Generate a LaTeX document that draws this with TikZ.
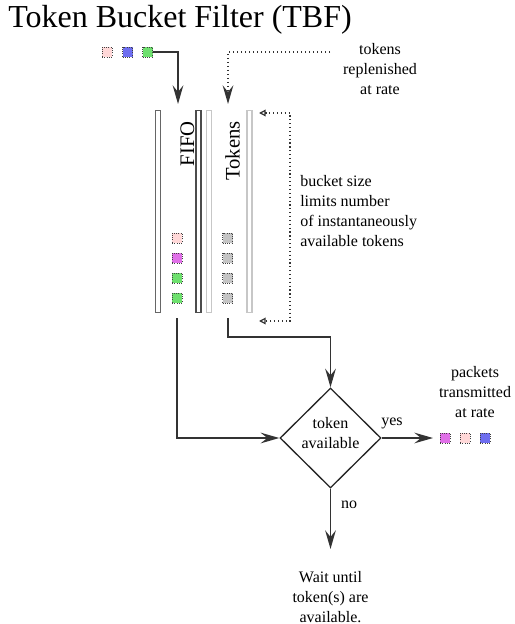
\documentclass[tikz,border=0pt]{standalone}
\usepackage{fontspec}
\setmainfont{Liberation Serif}
\usetikzlibrary{arrows.meta,shapes.geometric}
\definecolor{pk}{HTML}{FFD8D8}
\definecolor{bl}{HTML}{6E6EF0}
\definecolor{gr}{HTML}{6EE06E}
\definecolor{mg}{HTML}{E070E8}
\definecolor{gy}{HTML}{C4C4C4}
\begin{document}
\begin{tikzpicture}[x=0.75pt,y=-0.75pt,
  tip/.tip={Stealth[length=14pt,width=8pt,inset=5pt]},
  pkt/.style={draw=black!75, densely dotted, line width=0.7pt, minimum size=7.5pt, inner sep=0pt},
  flow/.style={draw=black!80, line width=1.1pt, -tip},
  rep/.style={draw=black!80, dotted, line width=1pt, -tip},
  bk/.style={draw=black!80, dotted, line width=0.9pt, {Triangle[open,length=5pt,width=5pt]}-{Triangle[open,length=5pt,width=5pt]}},
  lbl/.style={font=\fontsize{12}{15}\selectfont, align=center, inner sep=0pt},
  wall/.style={draw=black!60, line width=0.9pt, fill=white, minimum width=3.75pt, minimum height=152pt, inner sep=0pt},
  dwall/.style={wall, draw=black!70},
  lwall/.style={wall, draw=black!22},
  vlbl/.style={rotate=90, anchor=east, inner sep=0pt, font=\fontsize{15.5}{18}\selectfont}]
\useasboundingbox (0,0) rectangle (514,624);

% title
\node[anchor=base west, inner sep=0pt, font=\fontsize{24}{28}\selectfont] (title) at (8,28) {Token Bucket Filter (TBF)};

% incoming packets
\node[pkt, fill=pk] (in1) at (107,52) {};
\node[pkt, fill=bl] (in2) at (127.5,52) {};
\node[pkt, fill=gr] (in3) at (147.5,52) {};

% walls
\node[wall]  (fifoL) at (158,211.5) {};
\node[dwall] (fifoR) at (198.5,211.5) {};
\node[lwall] (tokL)  at (209,211.5) {};
\node[lwall] (tokR)  at (249.5,211.5) {};

\node[vlbl] (fifolbl) at (187.5,121) {FIFO};
\node[vlbl] (toklbl)  at (232.5,121) {Tokens};

% queued packets
\node[pkt, fill=pk] (q1) at (177,238) {};
\node[pkt, fill=mg] (q2) at (177,258) {};
\node[pkt, fill=gr] (q3) at (177,278) {};
\node[pkt, fill=gr] (q4) at (177,298) {};
% tokens
\node[pkt, fill=gy] (t1) at (227.5,238) {};
\node[pkt, fill=gy] (t2) at (227.5,258) {};
\node[pkt, fill=gy] (t3) at (227.5,278) {};
\node[pkt, fill=gy] (t4) at (227.5,298) {};

% labels
\node[lbl] (replbl) at (380,69) {tokens\\replenished\\at rate};
\node[lbl, align=left, anchor=west] (bklbl) at (300,211) {bucket size\\limits number\\of instantaneously\\available tokens};
\node[lbl] (pktlbl) at (475,392) {packets\\transmitted\\at rate};
\node[lbl] (waitlbl) at (330.5,597) {Wait until\\token(s) are\\available.};

% decision
\node[draw=black!85, line width=1pt, diamond, minimum width=75.75pt, minimum height=75pt, inner sep=0pt] (dec) at (330.5,438) {};
\node[lbl] (dectxt) at (330.5,433) {token\\available};
\node[lbl] (yes) at (392,423) {yes};
\node[lbl] (no) at (349,505) {no};

% outgoing packets
\node[pkt, fill=mg] (o1) at (445,438) {};
\node[pkt, fill=pk] (o2) at (465,438) {};
\node[pkt, fill=bl] (o3) at (485,438) {};

% coordinates
\coordinate (inTop) at (178,104);
\coordinate (repStart) at (330,52);
\coordinate (repEnd) at (228,104);
\coordinate (bkT) at (259,113);
\coordinate (bkB) at (259,321);
\coordinate (fifoOut) at (177,318);
\coordinate (tokOut) at (228,318);
\coordinate (yesEnd) at (433,438);
\coordinate (noEnd) at (330.5,549);

% connectors
\draw[flow] (in3.east) -| (inTop);
\draw[rep] (repStart) -| (repEnd);
\draw[bk] (bkT) -- ++(31,0) |- (bkB);
\draw[flow] (fifoOut) |- (dec.west);
\draw[flow] (tokOut) -- ++(0,19) -| (dec.north);
\draw[flow] (dec.east) -- (yesEnd);
\draw[flow] (dec.south) -- (noEnd);
\end{tikzpicture}
\end{document}
